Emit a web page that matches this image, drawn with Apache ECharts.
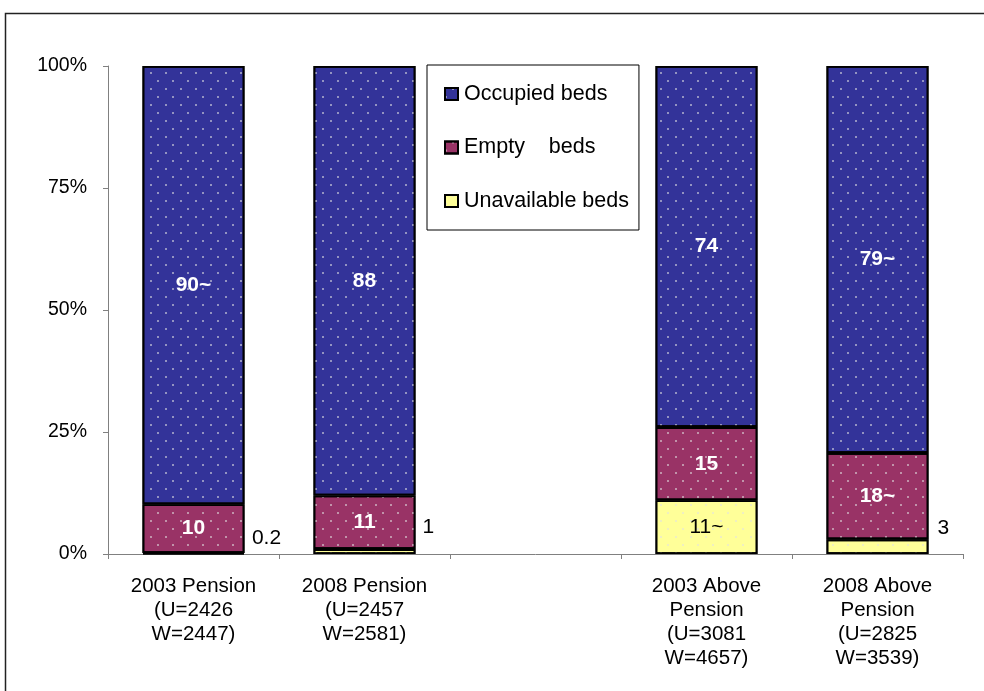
<!DOCTYPE html>
<html>
<head>
<meta charset="utf-8">
<script src="https://cdn.jsdelivr.net/npm/echarts@6/dist/echarts.min.js"></script>
<style>
  html, body { margin: 0; padding: 0; background: #fff; }
  #chart { width: 984px; height: 691px; }
</style>
</head>
<body>
<div id="chart"></div>
<script>
// Bed status by group, stacked to 100%
const categories = [
  '2003 Pension\n(U=2426\nW=2447)',
  '2008 Pension\n(U=2457\nW=2581)',
  '',
  '2003 Above\nPension\n(U=3081\nW=4657)',
  '2008 Above\nPension\n(U=2825\nW=3539)'
];
const seriesNames = ['Unavailable beds', 'Empty    beds', 'Occupied beds'];
const unavailable = [0.2, 1, null, 11, 3];
const empty = [10, 11, null, 15, 17.7];
const occupied = [89.8, 88, null, 74, 79.3];
const unavailableLabels = ['0.2', '1', '', '11~', '3'];
const emptyLabels = ['10', '11', '', '15', '18~'];
const occupiedLabels = ['90~', '88', '', '74', '79~'];
const yTicks = [0, 25, 50, 75, 100];

const FONT = "'Liberation Sans', Arial, sans-serif";

// light dotted fill laid over every bar segment
const dots = {
  symbol: 'rect',
  symbolSize: 1,
  color: 'rgba(225,225,225,0.55)',
  dashArrayX: [[2, 13], [0, 7, 2, 6]],
  dashArrayY: [2, 6],
  rotation: 0
};

function segment(name, values, labels, color, labelOpts) {
  return {
    name: name,
    type: 'bar',
    stack: 'beds',
    barWidth: 102,
    data: values.map((v, i) => ({ value: v, labelText: labels[i] })),
    itemStyle: { color: color, borderColor: '#000', borderWidth: 1.8, decal: dots },
    emphasis: { disabled: true },
    label: Object.assign({
      show: true,
      fontFamily: FONT,
      formatter: p => p.data.labelText
    }, labelOpts)
  };
}

const unavailableSeries = segment(seriesNames[0], unavailable, unavailableLabels, '#FFFF99', {
  position: 'right', distance: 7, offset: [0, -15], color: '#000', fontSize: 21
});
// small segments: value text sits to the right, a little above the base
unavailableSeries.data[1].label = { offset: [0, -24] };
unavailableSeries.data[4].label = { offset: [2, -18] };
// the tall yellow segment carries its label inside
unavailableSeries.data[3].label = { position: 'inside', offset: [0, 0], color: '#000', fontSize: 21 };

const emptySeries = segment(seriesNames[1], empty, emptyLabels, '#993366', {
  position: 'inside', color: '#fff', fontWeight: 'bold', fontSize: 21
});
const occupiedSeries = segment(seriesNames[2], occupied, occupiedLabels, '#333399', {
  position: 'inside', color: '#fff', fontWeight: 'bold', fontSize: 21
});

const chart = echarts.init(document.getElementById('chart'), null, { renderer: 'canvas' });
chart.setOption({
  animation: false,
  backgroundColor: '#fff',
  textStyle: { fontFamily: FONT },
  grid: { left: 108, right: 21, top: 66, bottom: 137, containLabel: false },
  legend: {
    data: [seriesNames[2], seriesNames[1], seriesNames[0]],
    orient: 'vertical',
    left: 427,
    top: 65,
    padding: [18, 10, 18, 17],
    itemGap: 31.5,
    itemWidth: 13,
    itemHeight: 12,
    icon: 'rect',
    borderColor: '#000',
    borderWidth: 1,
    backgroundColor: '#fff',
    selectedMode: false,
    textStyle: { fontFamily: FONT, fontSize: 21.5, color: '#000', padding: [0, 0, 0, 1] }
  },
  xAxis: {
    type: 'category',
    data: categories,
    axisLine: { lineStyle: { color: '#808080', width: 1 } },
    axisTick: { show: true, length: 5, lineStyle: { color: '#808080' } },
    axisLabel: {
      interval: 0,
      margin: 20,
      fontFamily: FONT,
      fontSize: 20.5,
      lineHeight: 24,
      color: '#000'
    }
  },
  yAxis: {
    type: 'value',
    min: yTicks[0],
    max: yTicks[yTicks.length - 1],
    interval: yTicks[1] - yTicks[0],
    axisLine: { show: true, lineStyle: { color: '#808080', width: 1 } },
    axisTick: { show: true, length: 5, lineStyle: { color: '#808080' } },
    splitLine: { show: false },
    axisLabel: {
      margin: 21,
      fontFamily: FONT,
      fontSize: 19.5,
      color: '#000',
      formatter: '{value}%'
    }
  },
  series: [unavailableSeries, emptySeries, occupiedSeries],
  graphic: [{
    type: 'rect',
    silent: true,
    z: 100,
    shape: { x: 5.5, y: 13.5, width: 1000, height: 700 },
    style: { fill: 'none', stroke: '#222', lineWidth: 1.5 }
  }]
});
</script>
</body>
</html>
